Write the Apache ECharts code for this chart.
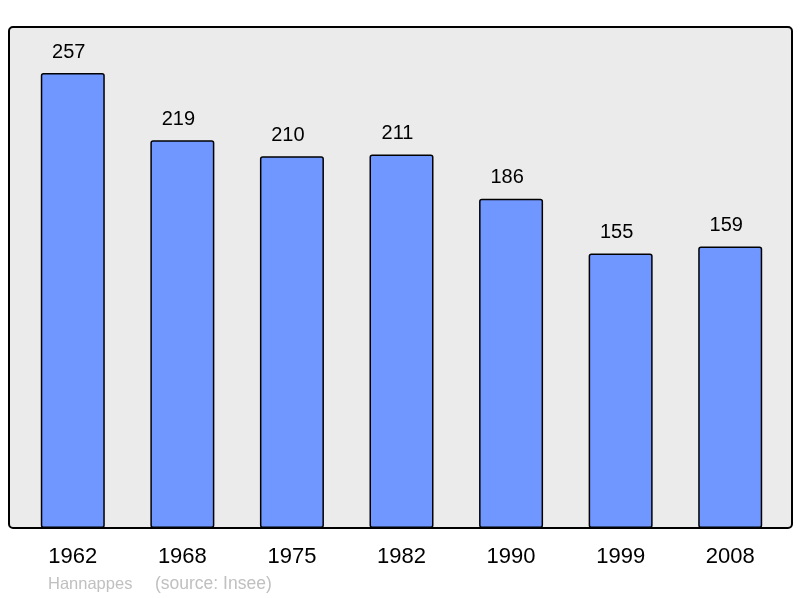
<!DOCTYPE html>
<html>
<head>
<meta charset="utf-8">
<script src="https://cdn.jsdelivr.net/npm/echarts@6/dist/echarts.min.js"></script>
<style>html,body{margin:0;padding:0;background:#fff}#c{width:800px;height:598px}</style>
</head>
<body>
<div id="c"></div>
<script>
var years = ['1962', '1968', '1975', '1982', '1990', '1999', '2008'];
var population = [257, 219, 210, 211, 186, 155, 159];
var footerName = 'Hannappes';
var footerSource = '(source: Insee)';

var chart = echarts.init(document.getElementById('c'), null, {renderer: 'canvas'});
var FONT = '"Liberation Sans", Arial, sans-serif';
chart.setOption({
  animation: false,
  grid: {left: 18, right: 15, top: 27, bottom: 70},
  graphic: [
    {type: 'rect', z: -10, shape: {x: 9, y: 27, width: 783, height: 501, r: 4}, style: {fill: '#ebebeb', stroke: null}},
    {type: 'rect', z: 100, shape: {x: 9, y: 27, width: 783, height: 501, r: 4}, style: {fill: null, stroke: '#000', lineWidth: 2}},
    {type: 'text', left: 48, top: 576, style: {text: footerName, fill: '#c0c0c0', font: '16.5px ' + FONT}},
    {type: 'text', left: 155, top: 575, style: {text: footerSource, fill: '#c0c0c0', font: '17.5px ' + FONT}}
  ],
  xAxis: {
    type: 'category', data: years,
    axisLine: {show: false}, axisTick: {show: false},
    axisLabel: {color: '#000', fontSize: 22, fontFamily: FONT, margin: 18}
  },
  yAxis: {
    type: 'value', min: 0, max: 283,
    show: false, splitLine: {show: false}
  },
  series: [{
    type: 'bar', data: population, barWidth: 64,
    itemStyle: {color: '#7096ff', borderColor: '#000', borderWidth: 1.5, borderRadius: 2},
    label: {show: true, position: 'top', distance: 12, offset: [-4, 1], color: '#000', fontSize: 20, fontFamily: FONT}
  }]
});
</script>
</body>
</html>
